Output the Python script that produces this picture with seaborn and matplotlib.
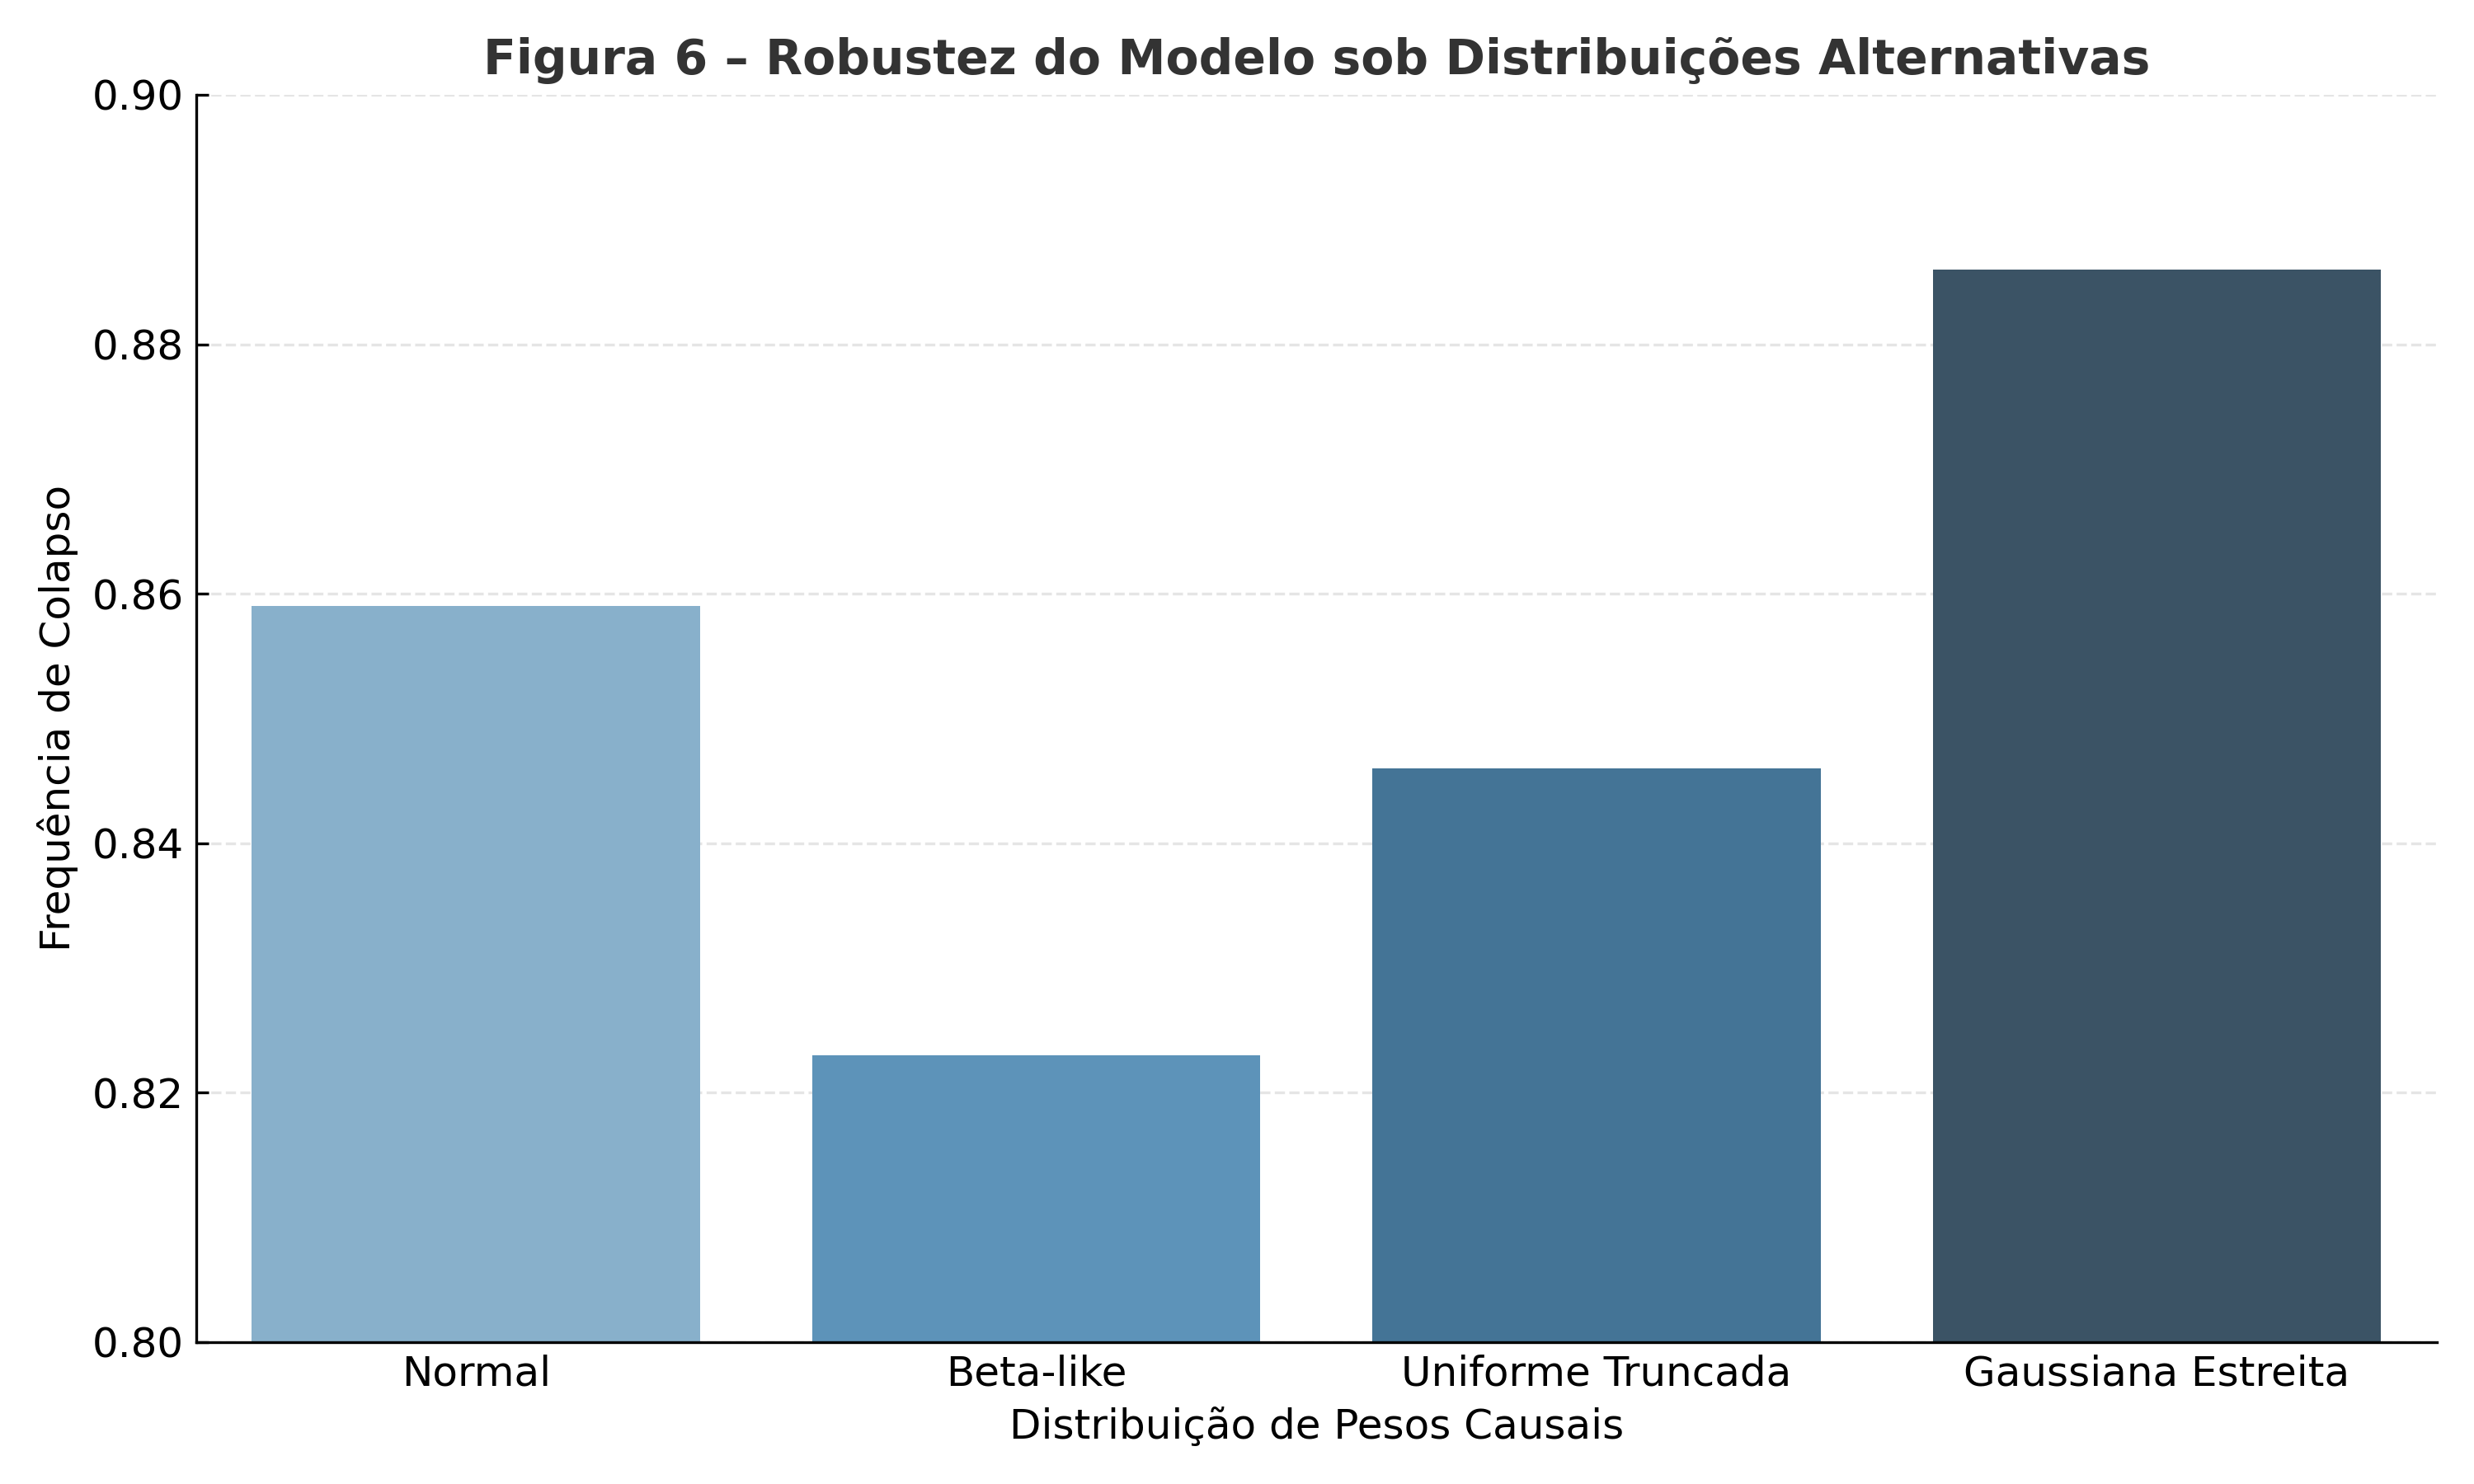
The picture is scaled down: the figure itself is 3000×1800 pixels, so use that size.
import matplotlib
matplotlib.use('Agg')
import matplotlib.pyplot as plt
import seaborn as sns
import pandas as pd

# dados
distribuicoes = ['Normal', 'Beta-like', 'Uniforme Truncada', 'Gaussiana Estreita']
freq_colapso = [0.859, 0.823, 0.846, 0.886]

df = pd.DataFrame({'dist': distribuicoes, 'freq': freq_colapso})

plt.rcParams['font.family'] = ['DejaVu Sans']
plt.rcParams['xtick.direction'] = 'in'
plt.rcParams['ytick.direction'] = 'in'

fig, ax = plt.subplots(figsize=(10, 6), dpi=300)
sns.barplot(data=df, x='dist', y='freq', hue='dist', palette='Blues_d',
            legend=False, ax=ax, zorder=2)

ax.set_ylim(0.80, 0.90)
ax.set_title('Figura 6 – Robustez do Modelo sob Distribuições Alternativas',
             fontsize=14, fontweight='bold', color='#333333')
ax.set_xlabel('Distribuição de Pesos Causais', fontsize=12)
ax.set_ylabel('Frequência de Colapso', fontsize=12)
ax.tick_params(axis='both', labelsize=12)
ax.yaxis.grid(True, linestyle='--', color='#e5e5e5', linewidth=0.8, zorder=0)
ax.set_axisbelow(True)
ax.spines['top'].set_visible(False)
ax.spines['right'].set_visible(False)

plt.tight_layout()
plt.savefig('out.png', dpi=300)
